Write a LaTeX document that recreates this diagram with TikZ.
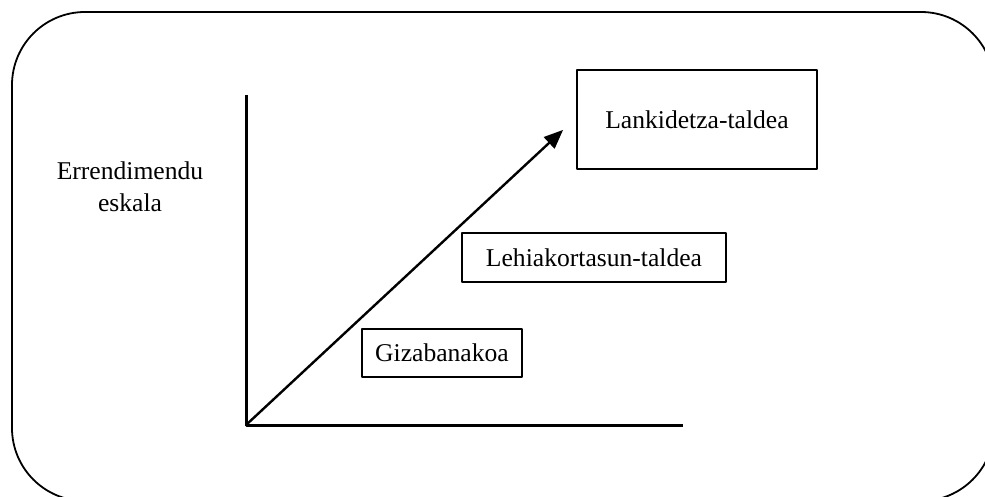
\documentclass[tikz,border=0pt]{standalone}
\usepackage{fontspec}
\setmainfont{Liberation Serif}
\usepackage{tikz}
\usetikzlibrary{arrows}

\begin{document}
\begin{tikzpicture}[line cap=round,line join=round,>=triangle 45,x=0.5pt,y=-0.5pt, font=\fontsize{12.8}{16}\selectfont, box/.style={draw, line width=0.65pt, inner sep=0pt}, axis/.style={line width=1.5pt}]
                    \useasboundingbox (0,0) rectangle (985,497);
                    \draw [line width=0.9pt, rounded corners=36.5pt] (12,12) rectangle (994,501);

                    \coordinate (o) at (246,425);
                    \coordinate (ytop) at (246,95);
                    \coordinate (xend) at (683,425);
                    \coordinate (tip) at (563,130);

                    \draw [axis, line cap=butt] (ytop) -- (o) -- (xend);
                    \draw [->, line width=1.2pt] (o) -- (tip);

                    \node[align=center] (scale) at (130,187) {Errendimendu\\eskala};

                    \node[box, minimum width=120pt, minimum height=49.5pt] (coop) at (697,119.5) {Lankidetza-taldea};
                    \node[box, minimum width=132pt, minimum height=24.5pt] (comp) at (594,257.5) {Lehiakortasun-taldea};
                    \node[box, minimum width=80pt, minimum height=24pt] (indiv) at (442,353) {Gizabanakoa};
                \end{tikzpicture}
\end{document}
